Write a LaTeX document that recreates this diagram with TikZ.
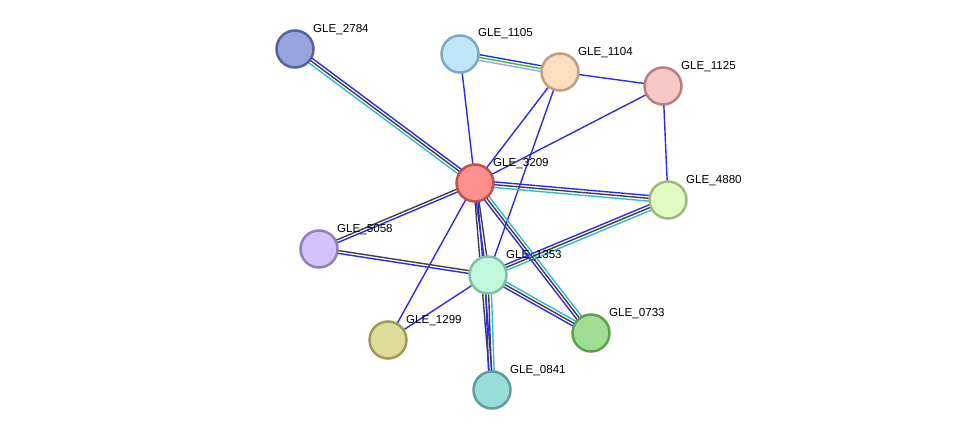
\documentclass[tikz,border=0pt]{standalone}
\usepackage{fontspec}
\setmainfont{Liberation Sans}
\usetikzlibrary{calc}
\pgfdeclarelayer{background}
\pgfsetlayers{background,main}
\definecolor{eblue}{HTML}{2B2BF0}
\definecolor{eblack}{HTML}{404040}
\definecolor{ecyan}{HTML}{30B8D8}
\definecolor{egreen}{HTML}{30C030}
\definecolor{elav}{HTML}{A0A0F8}
\tikzset{
  prot/.style={circle, minimum size=37pt, inner sep=0pt, line width=2.5pt},
  lab/.style={anchor=west, inner sep=0pt, font=\fontsize{11.6}{12}\selectfont, text=black},
  edge/.style={line width=1.4pt},
}
\newcommand\eline[4]{\draw[edge,#3] ($(#1.center)!#4!90:(#2.center)$) -- ($(#2.center)!#4!-90:(#1.center)$);}
\begin{document}
\begin{tikzpicture}[x=1pt,y=-1pt]
\useasboundingbox (0,0) rectangle (975,436);
% nodes
\node[prot, fill={rgb,255:red,153;green,163;blue,224}, draw={rgb,255:red,88;green,98;blue,158}] (n2784) at (295,49) {};
\node[prot, fill={rgb,255:red,192;green,230;blue,250}, draw={rgb,255:red,125;green,168;blue,192}] (n1105) at (460,54) {};
\node[prot, fill={rgb,255:red,253;green,223;blue,192}, draw={rgb,255:red,192;green,160;blue,128}] (n1104) at (560,72) {};
\node[prot, fill={rgb,255:red,246;green,200;blue,200}, draw={rgb,255:red,184;green,128;blue,128}] (n1125) at (663,86) {};
\node[prot, fill={rgb,255:red,255;green,144;blue,144}, draw={rgb,255:red,192;green,80;blue,80}] (n3209) at (475,183) {};
\node[prot, fill={rgb,255:red,224;green,252;blue,192}, draw={rgb,255:red,160;green,184;blue,128}] (n4880) at (668,200) {};
\node[prot, fill={rgb,255:red,210;green,196;blue,250}, draw={rgb,255:red,144;green,128;blue,192}] (n5058) at (319,249) {};
\node[prot, fill={rgb,255:red,192;green,248;blue,220}, draw={rgb,255:red,128;green,192;blue,160}] (n1353) at (488,275) {};
\node[prot, fill={rgb,255:red,160;green,222;blue,148}, draw={rgb,255:red,96;green,160;blue,80}] (n0733) at (591,333) {};
\node[prot, fill={rgb,255:red,222;green,220;blue,150}, draw={rgb,255:red,160;green,154;blue,88}] (n1299) at (388,340) {};
\node[prot, fill={rgb,255:red,152;green,222;blue,216}, draw={rgb,255:red,88;green,160;blue,152}] (n0841) at (492,390) {};
% labels
\node[lab] (l2784) at (313,30) {GLE\_2784};
\node[lab] (l1105) at (478,34) {GLE\_1105};
\node[lab] (l1104) at (578,53) {GLE\_1104};
\node[lab] (l1125) at (681,67) {GLE\_1125};
\node[lab] (l3209) at (493,164) {GLE\_3209};
\node[lab] (l4880) at (686,181) {GLE\_4880};
\node[lab] (l5058) at (337,230) {GLE\_5058};
\node[lab] (l1353) at (506,256) {GLE\_1353};
\node[lab] (l0733) at (609,314) {GLE\_0733};
\node[lab] (l1299) at (406,321) {GLE\_1299};
\node[lab] (l0841) at (510,371) {GLE\_0841};
% edges
\begin{pgfonlayer}{background}
\eline{n2784}{n3209}{eblue}{2.8pt}
\eline{n2784}{n3209}{eblack}{0pt}
\eline{n2784}{n3209}{ecyan}{-2.8pt}
\eline{n1105}{n1104}{eblue}{2.8pt}
\eline{n1105}{n1104}{egreen}{0pt}
\eline{n1105}{n1104}{elav}{-2.8pt}
\eline{n1105}{n3209}{eblue}{0pt}
\eline{n1104}{n3209}{eblue}{0pt}
\eline{n1104}{n1353}{eblue}{0pt}
\eline{n1104}{n1125}{eblue}{0pt}
\eline{n1125}{n3209}{eblue}{0pt}
\eline{n1125}{n4880}{eblue}{0pt}
\eline{n3209}{n4880}{eblue}{2.8pt}
\eline{n3209}{n4880}{eblack}{0pt}
\eline{n3209}{n4880}{ecyan}{-2.8pt}
\eline{n3209}{n5058}{eblack}{-1.4pt}
\eline{n3209}{n5058}{eblue}{1.4pt}
\eline{n3209}{n1353}{eblue}{-1.4pt}
\eline{n3209}{n1353}{eblack}{1.4pt}
\eline{n3209}{n0841}{eblack}{-1.4pt}
\eline{n3209}{n0841}{eblue}{1.4pt}
\eline{n3209}{n0733}{eblue}{-2.8pt}
\eline{n3209}{n0733}{eblack}{0pt}
\eline{n3209}{n0733}{ecyan}{2.8pt}
\eline{n3209}{n1299}{eblue}{0pt}
\eline{n5058}{n1353}{eblack}{1.4pt}
\eline{n5058}{n1353}{eblue}{-1.4pt}
\eline{n1353}{n4880}{eblue}{2.8pt}
\eline{n1353}{n4880}{eblack}{0pt}
\eline{n1353}{n4880}{ecyan}{-2.8pt}
\eline{n1353}{n0733}{ecyan}{2.8pt}
\eline{n1353}{n0733}{eblack}{0pt}
\eline{n1353}{n0733}{eblue}{-2.8pt}
\eline{n1353}{n0841}{eblue}{-2.8pt}
\eline{n1353}{n0841}{eblack}{0pt}
\eline{n1353}{n0841}{ecyan}{2.8pt}
\eline{n1353}{n1299}{eblue}{0pt}
\end{pgfonlayer}
\end{tikzpicture}
\end{document}
